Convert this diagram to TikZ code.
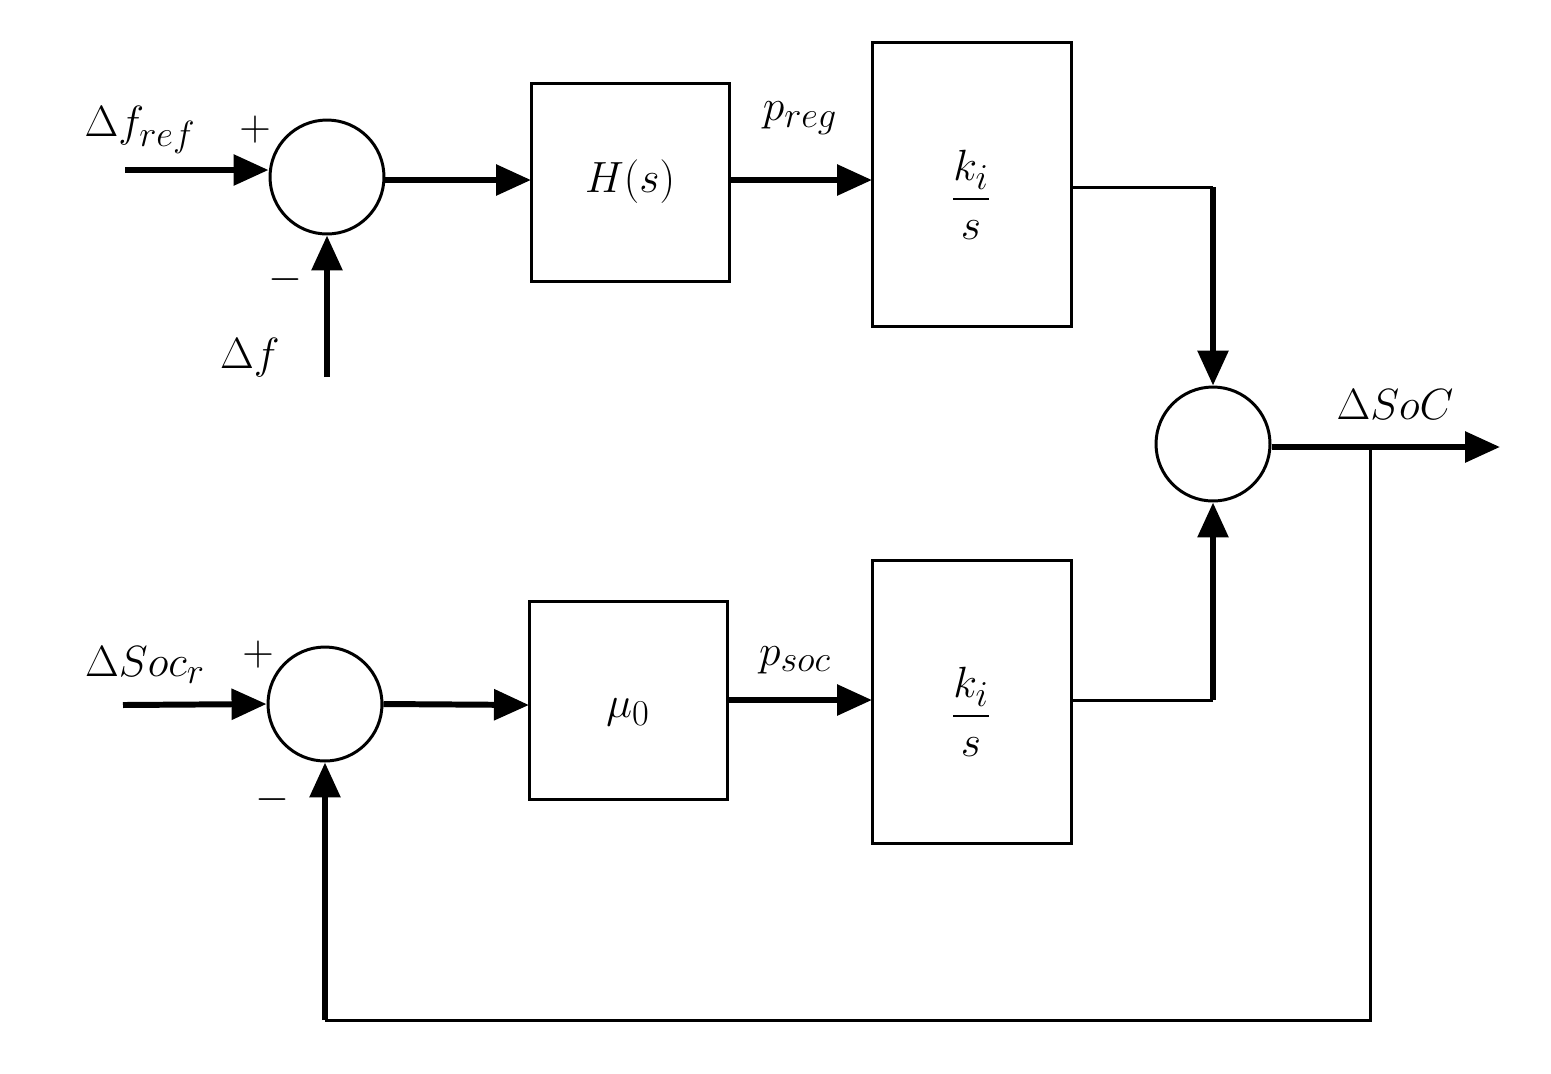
\documentclass[tikz,border=0pt]{standalone}
\usepackage{amsmath}
\usetikzlibrary{arrows.meta}
\begin{document}
\begin{tikzpicture}[x=0.02cm,y=-0.02cm,
  blk/.style={draw,line width=1.7pt},
  sum/.style={draw,circle,line width=1.7pt,minimum size=2.28cm,inner sep=0},
  thick arr/.style={line width=3.4pt,-{Triangle[length=0.7cm,width=0.6cm]}},
  thin/.style={line width=1.7pt},
  lbl/.style={font=\fontsize{32}{38}\selectfont}]
\useasboundingbox (0,0) rectangle (1551,1073);
% boxes
\draw[blk] (531,83) rectangle (729,281);
\draw[blk] (872,42) rectangle (1071,326);
\draw[blk] (529,601) rectangle (727,799);
\draw[blk] (872,560) rectangle (1071,843);
\node[lbl] (H) at (630,182) {$H(s)$};
\node[lbl] (K1) at (971,195) {$\dfrac{k_i}{s}$};
\node[lbl] (M) at (628,712) {$\mu_0$};
\node[lbl] (K2) at (971,712) {$\dfrac{k_i}{s}$};
\coordinate (B1L) at (531,180); \coordinate (B1R) at (729,180);
\coordinate (B2L) at (872,180); \coordinate (B2R) at (1071,187);
\coordinate (B3L) at (529,705); \coordinate (B3R) at (727,700);
\coordinate (B4L) at (872,700); \coordinate (B4R) at (1071,700);
% sums
\node[sum] (S1) at (327,177) {};
\node[sum] (S2) at (325,704) {};
\node[sum] (S3) at (1213,444) {};
% inputs
\coordinate (in1) at (125,170);
\coordinate (in2) at (327,377);
\coordinate (in3) at (123,705);
\draw[thick arr] (in1) -- (S1.west|-in1);
\draw[thick arr] (in2) -- (S1.south);
\draw[thick arr] (in3) -- (S2.west);
\draw[thick arr] (S1.east|-B1L) -- (B1L);
\draw[thick arr] (B1R) -- (B2L);
\draw[thick arr] (S2.east) -- (B3L);
\draw[thick arr] (B3R) -- (B4L);
% to S3
\coordinate (c1) at (1213,187);
\coordinate (c2) at (1213,700);
\draw[thin] (B2R) -- (c1);
\draw[thick arr] (c1) -- (S3.north);
\draw[thin] (B4R) -- (c2);
\draw[thick arr] (c2) -- (S3.south);
% output
\coordinate (out) at (1500,447);
\draw[thick arr] (S3.east|-out) -- (out);
\coordinate (f1) at (1370,450);
\coordinate (f2) at (1370,1020);
\coordinate (f3) at (325,1020);
\draw[thin] (f1) -- (f2) -- (f3);
\draw[thick arr] (f3) -- (S2.south);
% labels
\node[lbl] (L1) at (140,130) {$\Delta f_{ref}$};
\node[lbl] (P1) at (255,130) {$+$};
\node[lbl] (L2) at (250,358) {$\Delta f$};
\node[lbl] (N1) at (285,280) {$-$};
\node[lbl] (L3) at (800,118) {$p_{reg}$};
\node[lbl] (L4) at (1395,405) {$\Delta SoC$};
\node[lbl] (L5) at (145,665) {$\Delta Soc_r$};
\node[lbl] (P2) at (258,655) {$+$};
\node[lbl] (N2) at (272,800) {$-$};
\node[lbl] (L6) at (795,660) {$p_{soc}$};
\end{tikzpicture}
\end{document}
